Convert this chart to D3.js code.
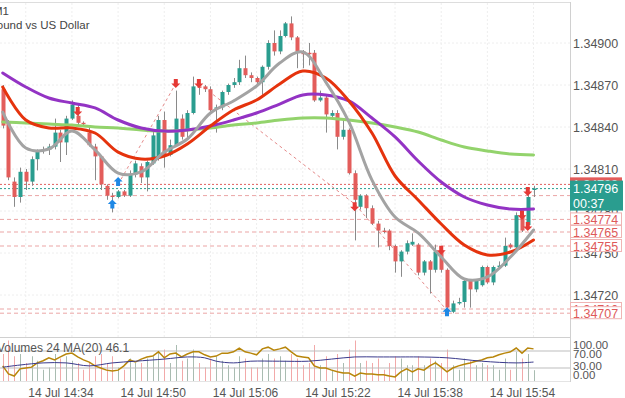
<!DOCTYPE html>
<html><head><meta charset="utf-8">
<script src="https://cdn.jsdelivr.net/npm/d3@7"></script>
<style>html,body{margin:0;padding:0;background:#fff;overflow:hidden}svg{display:block;font-family:"Liberation Sans",Arial,sans-serif}</style>
</head><body><svg id="c" width="625" height="398"></svg>
<script>
// ---------- DATA ----------
const firstBar = "2023-07-14 14:24";
const open = [1.34867,1.34843,1.34801,1.34790,1.34808,1.34801,1.34817,1.34823,1.34824,1.34826,1.34836,1.34829,1.34846,1.34848,1.34843,1.34836,1.34826,1.34819,1.34798,1.34791,1.34790,1.34794,1.34791,1.34806,1.34812,1.34804,1.34814,1.34818,1.34845,1.34820,1.34827,1.34846,1.34838,1.34850,1.34869,1.34869,1.34867,1.34853,1.34854,1.34865,1.34870,1.34872,1.34882,1.34877,1.34875,1.34872,1.34883,1.34900,1.34894,1.34905,1.34914,1.34904,1.34894,1.34893,1.34893,1.34859,1.34861,1.34848,1.34850,1.34833,1.34838,1.34807,1.34783,1.34791,1.34782,1.34771,1.34766,1.34766,1.34755,1.34744,1.34751,1.34756,1.34756,1.34736,1.34744,1.34738,1.34752,1.34738,1.34708,1.34714,1.34715,1.34730,1.34724,1.34727,1.34740,1.34729,1.34740,1.34741,1.34756,1.34754,1.34777,1.34770,1.34795];
const high = [1.34870,1.34845,1.34804,1.34811,1.34810,1.34819,1.34824,1.34826,1.34828,1.34846,1.34838,1.34848,1.34859,1.34856,1.34844,1.34841,1.34828,1.34820,1.34799,1.34793,1.34795,1.34795,1.34809,1.34816,1.34814,1.34816,1.34838,1.34848,1.34851,1.34831,1.34866,1.34849,1.34852,1.34876,1.34872,1.34870,1.34869,1.34856,1.34866,1.34871,1.34875,1.34888,1.34891,1.34879,1.34876,1.34884,1.34902,1.34909,1.34909,1.34915,1.34919,1.34905,1.34895,1.34900,1.34895,1.34866,1.34863,1.34852,1.34852,1.34845,1.34839,1.34809,1.34792,1.34792,1.34784,1.34773,1.34768,1.34767,1.34756,1.34752,1.34759,1.34764,1.34757,1.34745,1.34745,1.34756,1.34754,1.34739,1.34716,1.34718,1.34731,1.34731,1.34731,1.34741,1.34741,1.34741,1.34744,1.34761,1.34757,1.34779,1.34779,1.34792,1.34798];
const low = [1.34839,1.34802,1.34783,1.34786,1.34795,1.34798,1.34809,1.34821,1.34820,1.34824,1.34815,1.34820,1.34845,1.34841,1.34840,1.34826,1.34802,1.34795,1.34788,1.34779,1.34789,1.34790,1.34790,1.34804,1.34800,1.34794,1.34813,1.34816,1.34811,1.34819,1.34826,1.34831,1.34831,1.34849,1.34863,1.34865,1.34851,1.34836,1.34852,1.34863,1.34868,1.34870,1.34875,1.34872,1.34870,1.34863,1.34881,1.34891,1.34892,1.34904,1.34902,1.34882,1.34882,1.34884,1.34858,1.34858,1.34836,1.34846,1.34824,1.34831,1.34806,1.34759,1.34781,1.34775,1.34770,1.34754,1.34764,1.34752,1.34736,1.34733,1.34749,1.34755,1.34734,1.34734,1.34721,1.34736,1.34736,1.34708,1.34707,1.34713,1.34711,1.34711,1.34722,1.34726,1.34728,1.34727,1.34739,1.34740,1.34753,1.34753,1.34765,1.34768,1.34790];
const close = [1.34841,1.34804,1.34790,1.34808,1.34801,1.34817,1.34823,1.34824,1.34826,1.34836,1.34829,1.34846,1.34856,1.34843,1.34842,1.34827,1.34819,1.34799,1.34791,1.34790,1.34794,1.34791,1.34806,1.34814,1.34804,1.34815,1.34834,1.34845,1.34820,1.34827,1.34846,1.34833,1.34850,1.34869,1.34868,1.34867,1.34852,1.34854,1.34865,1.34870,1.34872,1.34882,1.34877,1.34875,1.34872,1.34883,1.34900,1.34894,1.34905,1.34914,1.34904,1.34894,1.34892,1.34892,1.34859,1.34861,1.34849,1.34850,1.34833,1.34838,1.34807,1.34788,1.34791,1.34782,1.34771,1.34766,1.34765,1.34755,1.34744,1.34751,1.34757,1.34758,1.34736,1.34744,1.34738,1.34751,1.34738,1.34711,1.34714,1.34715,1.34730,1.34724,1.34730,1.34740,1.34729,1.34740,1.34741,1.34755,1.34754,1.34777,1.34766,1.34790,1.34796];
const volume = [60,90,55,60,40,55,45,25,30,60,50,55,45,40,25,40,55,60,40,55,30,25,50,40,40,50,55,65,70,40,80,45,50,70,40,30,50,55,45,35,30,55,50,30,30,50,60,50,55,45,60,50,35,40,80,35,55,25,60,40,70,90,40,45,40,50,25,40,55,50,35,35,55,35,50,45,40,70,35,25,50,45,35,40,35,35,25,50,25,65,50,60,24];
const volumeMA20 = 46.1;

// moving averages read at every 4th bar
const maIdx  = [0,4,8,12,16,20,24,28,32,36,40,44,48,52,56,60,64,68,72,76,80,84,88,92];
const maGray = [1.348507,1.34825,1.348243,1.348371,1.348236,1.348071,1.348079,1.348221,1.348314,1.3485,1.348586,1.348693,1.348857,1.348936,1.348721,1.348436,1.348021,1.347757,1.347643,1.347471,1.347314,1.347329,1.347471,1.347664];
const maRed  = [1.348686,1.34845,1.348393,1.348393,1.348357,1.348221,1.348171,1.348193,1.348279,1.348407,1.348521,1.348593,1.348707,1.3488,1.34875,1.348586,1.348357,1.34805,1.347879,1.347707,1.347557,1.347486,1.347507,1.347593];
const maPurple=[1.348786,1.348686,1.348607,1.348571,1.348536,1.34845,1.348393,1.348371,1.348379,1.348407,1.34845,1.3485,1.348564,1.348629,1.348629,1.348586,1.348464,1.348329,1.348157,1.348007,1.3479,1.347843,1.347814,1.347814];
const maGreen= [1.348436,1.348429,1.348421,1.348414,1.3484,1.348393,1.348379,1.348371,1.348379,1.348393,1.348414,1.348429,1.34845,1.348464,1.348464,1.34845,1.348429,1.3484,1.348364,1.348307,1.348257,1.348229,1.348207,1.3482];

// lower panel oscillator (per bar) and its signal line
const oscMain = [35,16,11,28,30,32,42,47,54,49,56,63,65,56,49,44,35,30,25,23,25,35,49,44,51,56,58,68,54,63,65,56,63,68,68,61,56,58,65,65,68,77,68,65,61,75,79,72,75,79,68,58,56,54,35,30,30,25,21,18,18,11,18,16,16,14,14,11,9,21,28,21,28,25,35,42,32,21,30,35,39,42,46,49,54,56,61,65,68,77,65,77,75];
const oscSigIdx = [0,3,7,11,15,19,23,28,32,35,37,40,43,48,53,57,61,65,69,72,77,83,89,92];
const oscSig    = [32,37,42,42,35,42,46,51,56,54,46,42,46,46,46,51,56,56,56,56,54,46,42,44];

const priceTicks = [1.34900,1.34870,1.34840,1.34810,1.34780,1.34750,1.34720];
const timeTicks = ["2023-07-14 14:34","2023-07-14 14:50","2023-07-14 15:06","2023-07-14 15:22","2023-07-14 15:38","2023-07-14 15:54"];
const levels = [1.34774,1.34765,1.34755,1.34710,1.34707];
const bidPrice = 1.34796, askPrice = 1.34799, extraLevel = 1.34791;
const timer = "00:37";

const sigIdx   = [13,30,34,19,20,61,76,77,90,91,91];
const sigType  = ["sell","sell","sell","buy","buy","sell","sell","buy","sell","sell","sell"];
const sigPrice = [1.34851,1.34871,1.34871,1.34785,1.34801,1.34783,1.34752,1.34708,1.34777,1.34769,1.34794];

const zz1Idx = [20,30], zz1Price = [1.34799,1.34871];
const zz2Idx = [34,61,77], zz2Price = [1.34871,1.34785,1.34709];

// ---------- CHART ----------
const parse = d3.timeParse("%Y-%m-%d %H:%M");
const t0 = parse(firstBar);
const tAt = i => new Date(t0.getTime() + i*60000);
const tEnd = parse("2023-07-14 15:54");
const x = d3.scaleTime().domain([new Date(tEnd.getTime()-80*60000), tEnd]).range([60.4, 522]);
const xi = i => x(tAt(i));
const y = d3.scaleLinear().domain([1.34720,1.34900]).range([295,43]);
const yv = d3.scaleLinear().domain([0,100]).range([381,336]);
const yo = d3.scaleLinear().domain([0,100]).range([380.75,338.25]);
const yLab = d3.scaleLinear().domain([0,100]).range([375,345]);

const svg = d3.select("#c");
const R = 570;
const GREEN = "#2a9d8f", RED = "#e35d5b";

// grid
const gridT = d3.range(0,12).map(k => new Date(parse("2023-07-14 14:28").getTime()+k*8*60000));
svg.append("g").selectAll("line").data(gridT).join("line")
  .attr("x1",d=>x(d)).attr("x2",d=>x(d)).attr("y1",3).attr("y2",337)
  .attr("stroke","#eeeeee").attr("stroke-dasharray","2,2");
svg.append("g").selectAll("line").data(priceTicks).join("line")
  .attr("x1",0).attr("x2",R).attr("y1",d=>y(d)).attr("y2",d=>y(d))
  .attr("stroke","#eeeeee").attr("stroke-dasharray","2,2");

// frame
svg.append("line").attr("x1",0).attr("x2",R).attr("y1",2.5).attr("y2",2.5).attr("stroke","#dddddd");
svg.append("line").attr("x1",R+0.5).attr("x2",R+0.5).attr("y1",2).attr("y2",382).attr("stroke","#d0d0d0");
svg.append("line").attr("x1",0).attr("x2",R).attr("y1",337.5).attr("y2",337.5).attr("stroke","#d0d0d0");
svg.append("line").attr("x1",0).attr("x2",R).attr("y1",381.5).attr("y2",381.5).attr("stroke","#e4e4e4");

// titles
svg.append("text").attr("x",9).attr("y",15).attr("text-anchor","end").attr("font-size",11.5).attr("fill","#444").text("GBPUSD, M1");
svg.append("text").attr("x",89.5).attr("y",28.5).attr("text-anchor","end").attr("font-size",11.5).attr("fill","#444").text("Great Britain Pound vs US Dollar");

// level lines
const lv = svg.append("g");
levels.concat([extraLevel]).forEach(p => lv.append("line").attr("x1",0).attr("x2",R).attr("y1",y(p)).attr("y2",y(p))
  .attr("stroke","#eba5a5").attr("stroke-dasharray","4,3"));
lv.append("line").attr("x1",0).attr("x2",R).attr("y1",y(askPrice)).attr("y2",y(askPrice)).attr("stroke","#e06060").attr("stroke-dasharray","2,2");
lv.append("line").attr("x1",0).attr("x2",R).attr("y1",y(bidPrice)).attr("y2",y(bidPrice)).attr("stroke","#2a9d8f").attr("stroke-dasharray","2,2");

// zigzag
const zl = d3.line().x(d=>xi(d[0])).y(d=>y(d[1]));
[[zz1Idx,zz1Price],[zz2Idx,zz2Price]].forEach(([a,b]) =>
  svg.append("path").attr("d", zl(a.map((v,k)=>[v,b[k]]))).attr("fill","none")
    .attr("stroke","#e58a8a").attr("stroke-dasharray","3,3").attr("stroke-width",1));

// candles
const bars = d3.range(open.length);
const cg = svg.append("g");
cg.selectAll("line").data(bars).join("line")
  .attr("x1",i=>Math.round(xi(i))+0.5).attr("x2",i=>Math.round(xi(i))+0.5)
  .attr("y1",i=>y(high[i])).attr("y2",i=>y(low[i]))
  .attr("stroke","#8a8a8a").attr("stroke-width",1);
cg.selectAll("rect").data(bars).join("rect")
  .attr("x",i=>Math.round(xi(i))-1.5).attr("width",4)
  .attr("y",i=>y(Math.max(open[i],close[i])))
  .attr("height",i=>Math.max(1,Math.abs(y(open[i])-y(close[i]))))
  .attr("fill",i=>close[i]>=open[i]?GREEN:RED);

// moving averages
const ml = d3.line().x(d=>xi(d[0])).y(d=>y(d[1])).curve(d3.curveCatmullRom.alpha(0.5));
[[maGreen,"#93d36c"],[maPurple,"#9333c4"],[maRed,"#e5330d"],[maGray,"#a3a3a3"]].forEach(([arr,col]) =>
  svg.append("path").attr("d", ml(maIdx.map((v,k)=>[v,arr[k]]))).attr("fill","none")
   .attr("stroke",col).attr("stroke-width",3).attr("stroke-linecap","round"));

// signal arrows
const arrow = (cx,cy,dir) => {
  const p = [[-2,-4.5],[2,-4.5],[2,0],[4.5,0],[0,4.5],[-4.5,0],[-2,0]];
  return "M" + p.map(q=>[cx+q[0], cy+q[1]*dir].join(",")).join("L") + "Z";
};
svg.append("g").selectAll("path").data(sigIdx.map((v,k)=>k)).join("path")
  .attr("d",k=>arrow(xi(sigIdx[k]), y(sigPrice[k]), sigType[k]==="sell"?1:-1))
  .attr("fill",k=>sigType[k]==="sell"?"#e53935":"#1e88e5");

// right price axis
const ax = svg.append("g").attr("font-size",12.5).attr("fill","#555");
ax.selectAll("text").data(priceTicks).join("text")
  .attr("x",573).attr("y",d=>y(d)+4.5).text(d=>d.toFixed(5));

// level labels
const lb = svg.append("g").attr("font-size",12.5);
const box = (p, fill, stroke, tcol) => {
  lb.append("rect").attr("x",570.5).attr("y",y(p)-6.5).attr("width",51).attr("height",12)
    .attr("fill",fill).attr("stroke",stroke);
  lb.append("text").attr("x",573).attr("y",y(p)+4.5).attr("fill",tcol).text(p.toFixed(5));
};
levels.forEach(p => box(p,"#fff","#f0b4b4","#de5a5a"));
box(askPrice,"#e35d5b","#e35d5b","#fff");
lb.append("rect").attr("x",570).attr("y",y(bidPrice)-8).attr("width",53).attr("height",30).attr("fill","#2a9d8f");
lb.append("text").attr("x",573).attr("y",y(bidPrice)+4.5).attr("fill","#fff").text(bidPrice.toFixed(5));
lb.append("text").attr("x",573).attr("y",y(bidPrice)+19).attr("fill","#fff").text(timer);

// volume panel
svg.append("g").selectAll("line").data(bars).join("line")
  .attr("x1",i=>Math.round(xi(i))+0.5).attr("x2",i=>Math.round(xi(i))+0.5)
  .attr("y1",yv(0)).attr("y2",i=>yv(volume[i]))
  .attr("stroke",i=>close[i]>=open[i]?"#a9bcb1":"#f2a9a9").attr("stroke-width",1);
[70,30].forEach(v => svg.append("line").attr("x1",0).attr("x2",R).attr("y1",yo(v)).attr("y2",yo(v)).attr("stroke","#bdbdbd"));
svg.append("path").attr("d", d3.line().x((d,i)=>xi(i)).y(d=>yo(d))(oscMain)).attr("fill","none").attr("stroke","#b8860b").attr("stroke-width",1.5);
svg.append("path").attr("d", d3.line().x(d=>xi(d[0])).y(d=>yo(d[1])).curve(d3.curveCatmullRom)(oscSigIdx.map((v,k)=>[v,oscSig[k]]))).attr("fill","none").attr("stroke","#3a3a8c").attr("stroke-width",1);
svg.append("text").attr("x",-3).attr("y",352).attr("font-size",12).attr("fill","#555")
  .text("Volumes " + volume[volume.length-1] + " MA(20) " + volumeMA20.toFixed(1));
svg.append("g").attr("font-size",11.5).attr("fill","#555").selectAll("text").data([100,70,30,0]).join("text")
  .attr("x",573).attr("y",d=>yLab(d)+4).text(d=>d.toFixed(2));

// time axis
const xAxis = d3.axisBottom(x).tickValues(timeTicks.map(parse)).tickFormat(d3.timeFormat("%d %b %H:%M")).tickSize(0);
const xg = svg.append("g").attr("transform","translate(0,385)").call(xAxis);
xg.select(".domain").remove();
xg.selectAll("text").attr("font-size",12).attr("fill","#555").attr("font-family","Liberation Sans, Arial, sans-serif");
</script></body></html>
